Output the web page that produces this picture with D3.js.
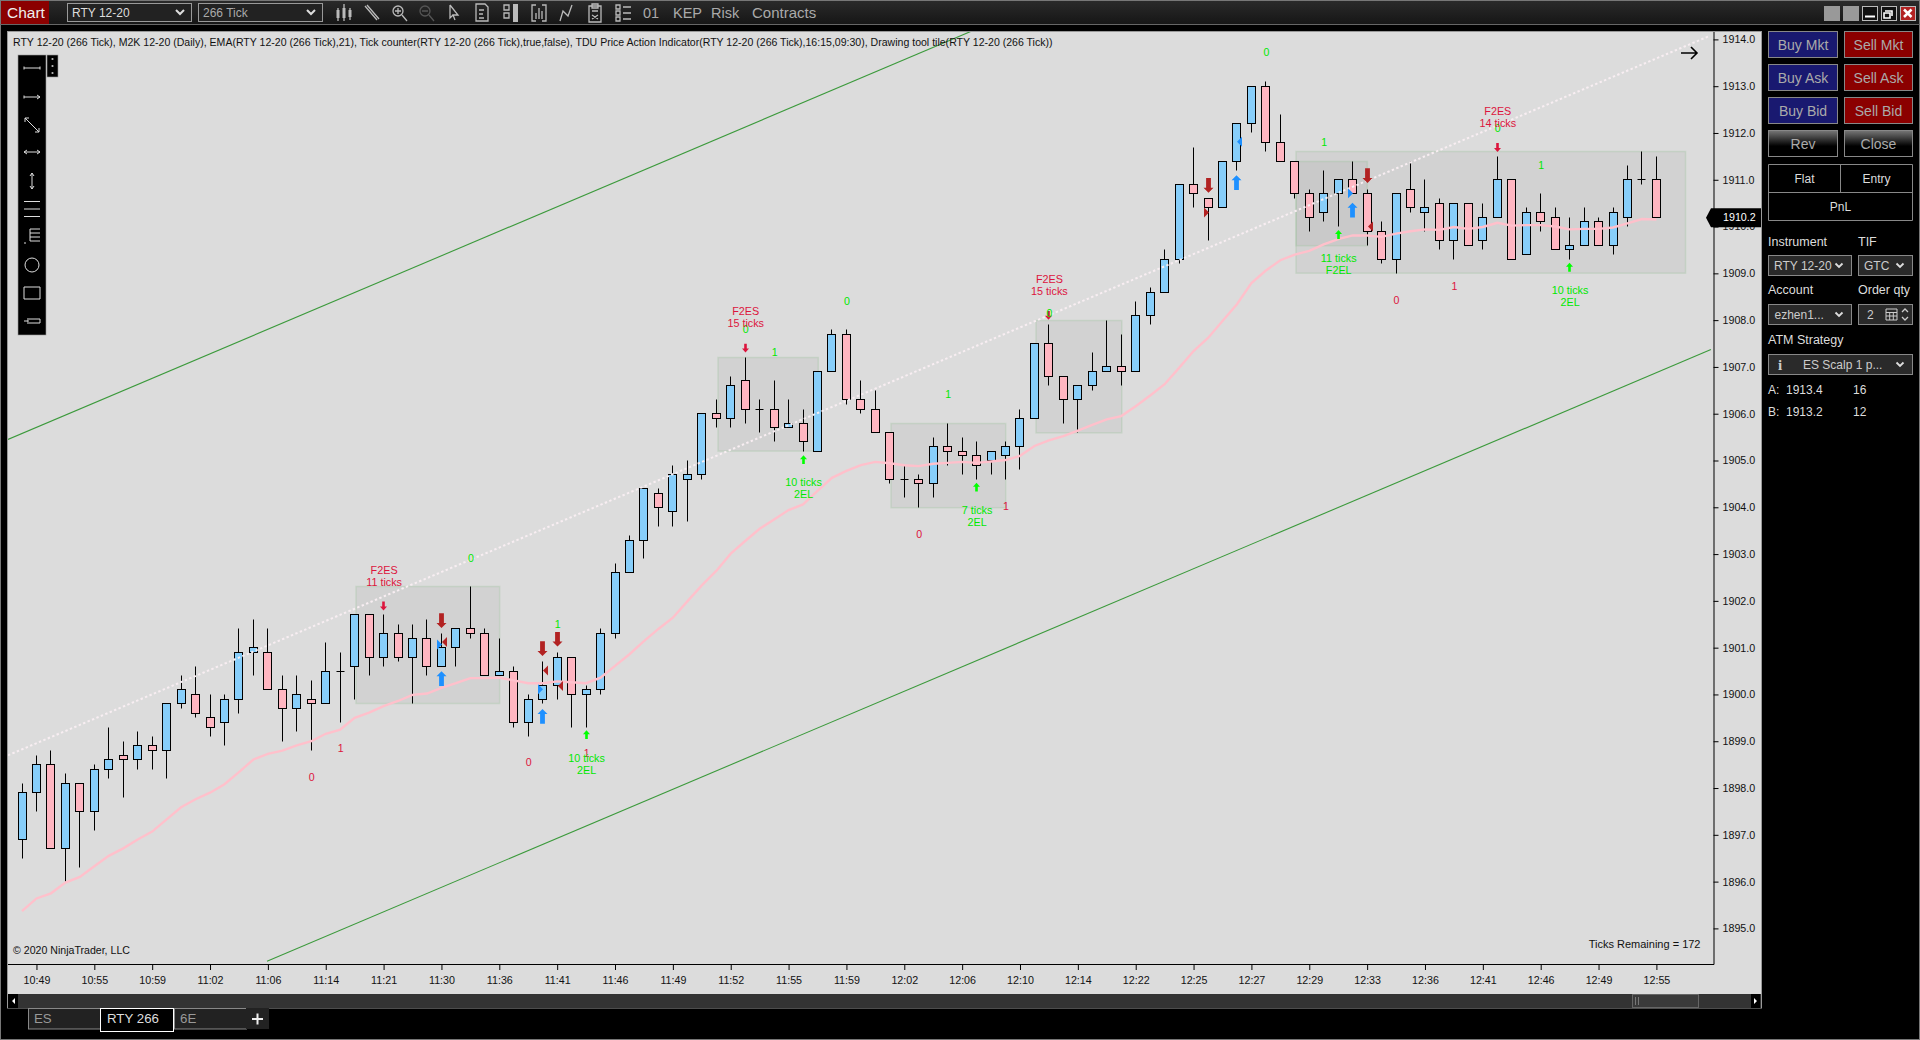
<!DOCTYPE html>
<html>
<head>
<meta charset="utf-8">
<script src="https://cdn.jsdelivr.net/npm/d3@7"></script>
<style>
  html, body { margin: 0; background: #000; overflow: hidden; }
  text { font-family: "Liberation Sans", Arial, sans-serif; }
</style>
</head>
<body>
<div id="chart"></div>
<script>
const opens = [1896.9,1897.9,1898.5,1896.7,1898.1,1897.5,1898.4,1898.7,1898.6,1898.9,1898.8,1899.8,1900.0,1899.5,1899.4,1899.9,1900.9,1900.9,1900.1,1899.7,1899.9,1899.8,1900.5,1900.6,1901.7,1900.8,1901.3,1900.8,1901.2,1900.6,1901.0,1901.4,1901.3,1900.4,1900.5,1899.4,1899.9,1900.2,1900.8,1900.0,1900.1,1901.3,1902.6,1903.3,1904.3,1903.9,1904.6,1904.7,1906.0,1905.9,1906.7,1906.1,1906.1,1905.7,1905.8,1905.2,1906.9,1907.7,1906.3,1906.1,1905.6,1904.6,1904.6,1904.5,1905.3,1905.2,1905.1,1905.0,1905.1,1905.3,1905.9,1907.5,1906.8,1906.3,1906.6,1906.9,1907.0,1906.9,1908.1,1908.6,1909.3,1910.9,1910.6,1910.4,1911.4,1912.2,1913.0,1911.8,1911.4,1910.7,1910.3,1910.7,1911.0,1910.7,1909.9,1909.3,1910.8,1910.3,1910.5,1909.7,1910.5,1909.7,1910.2,1911.0,1909.4,1910.3,1910.2,1909.5,1909.6,1910.1,1909.6,1910.2,1911.0,1911.0];
const closes = [1897.9,1898.5,1896.7,1898.1,1897.5,1898.4,1898.6,1898.6,1898.9,1898.8,1899.8,1900.1,1899.6,1899.3,1899.9,1900.9,1901.0,1900.1,1899.7,1900.0,1899.8,1900.5,1900.5,1901.7,1900.8,1901.3,1900.8,1901.2,1900.6,1901.0,1901.4,1901.3,1900.4,1900.5,1899.4,1899.9,1900.2,1900.8,1900.0,1900.1,1901.3,1902.6,1903.3,1904.4,1904.0,1904.7,1904.7,1906.0,1905.9,1906.6,1906.1,1906.1,1905.7,1905.8,1905.4,1906.9,1907.7,1906.3,1906.1,1905.6,1904.6,1904.6,1904.5,1905.3,1905.2,1905.1,1904.9,1905.2,1905.3,1905.9,1907.5,1906.8,1906.3,1906.6,1906.9,1907.0,1906.9,1908.1,1908.6,1909.3,1910.9,1910.7,1910.4,1911.4,1912.2,1913.0,1911.8,1911.4,1910.7,1910.2,1910.7,1911.0,1910.7,1909.9,1909.3,1910.7,1910.4,1910.4,1909.7,1910.5,1909.6,1910.2,1911.0,1909.3,1910.3,1910.1,1909.5,1909.6,1910.1,1909.6,1910.3,1911.0,1911.0,1910.2];
const highs = [1898.1,1898.7,1898.8,1898.3,1898.1,1898.5,1899.3,1899.0,1899.2,1899.1,1899.8,1900.4,1900.6,1900.0,1900.0,1901.4,1901.6,1901.4,1900.4,1900.4,1900.3,1901.1,1900.9,1901.7,1901.7,1901.7,1901.5,1901.5,1901.6,1901.3,1901.4,1902.3,1901.4,1901.2,1900.6,1900.0,1900.7,1900.9,1900.8,1900.2,1901.4,1902.8,1903.4,1904.4,1904.4,1904.9,1905.0,1906.0,1906.3,1906.8,1907.2,1906.3,1906.7,1906.3,1906.1,1906.9,1907.8,1907.8,1906.7,1906.5,1905.6,1904.9,1904.7,1905.5,1905.8,1905.5,1905.4,1905.2,1905.4,1906.1,1907.5,1907.9,1906.8,1906.6,1907.3,1908.0,1907.7,1908.4,1908.7,1909.5,1910.9,1911.7,1910.6,1911.4,1912.2,1913.0,1913.1,1912.4,1911.4,1910.8,1911.2,1911.0,1911.4,1910.8,1910.1,1910.7,1911.4,1911.0,1910.6,1910.5,1910.5,1910.5,1911.5,1911.0,1910.4,1910.7,1910.4,1910.2,1910.4,1910.2,1910.4,1911.3,1911.6,1911.5];
const lows = [1896.5,1897.5,1896.7,1896.0,1896.3,1897.1,1898.2,1897.8,1898.4,1898.4,1898.2,1899.7,1899.5,1899.1,1898.9,1899.6,1900.4,1900.1,1899.0,1899.2,1898.8,1899.8,1899.4,1899.9,1900.4,1900.6,1900.7,1899.8,1900.4,1900.6,1900.6,1901.2,1900.4,1900.4,1899.3,1899.1,1899.8,1899.9,1899.3,1899.3,1900.0,1901.2,1902.6,1902.9,1903.6,1903.6,1903.7,1904.6,1905.7,1905.7,1905.8,1905.6,1905.4,1905.7,1905.2,1905.2,1906.9,1906.2,1906.0,1905.6,1904.5,1904.2,1904.0,1904.2,1904.9,1904.7,1904.6,1904.7,1904.6,1904.8,1905.9,1906.6,1905.8,1905.6,1906.5,1906.9,1906.6,1906.9,1907.9,1908.6,1909.2,1910.4,1909.7,1910.4,1911.2,1912.0,1911.6,1911.4,1910.6,1909.9,1910.1,1910.0,1910.7,1909.6,1909.2,1909.0,1910.3,1909.9,1909.5,1909.3,1909.6,1909.5,1910.2,1909.3,1909.4,1909.9,1909.5,1909.3,1909.6,1909.6,1909.4,1910.0,1910.9,1910.2];
const ema21 = [1895.37,1895.64,1895.75,1895.98,1896.10,1896.33,1896.55,1896.71,1896.90,1897.07,1897.33,1897.59,1897.76,1897.90,1898.08,1898.34,1898.61,1898.73,1898.80,1898.91,1899.00,1899.16,1899.25,1899.50,1899.61,1899.75,1899.86,1899.99,1900.02,1900.14,1900.24,1900.35,1900.35,1900.36,1900.30,1900.24,1900.24,1900.28,1900.26,1900.24,1900.36,1900.61,1900.86,1901.14,1901.40,1901.64,1901.99,1902.33,1902.64,1903.01,1903.28,1903.54,1903.74,1903.94,1904.06,1904.35,1904.63,1904.78,1904.90,1904.97,1904.94,1904.90,1904.88,1904.93,1904.95,1904.97,1904.95,1904.98,1905.01,1905.10,1905.31,1905.43,1905.52,1905.64,1905.76,1905.88,1905.95,1906.16,1906.39,1906.63,1906.98,1907.34,1907.62,1907.98,1908.34,1908.79,1909.06,1909.28,1909.40,1909.48,1909.62,1909.73,1909.81,1909.81,1909.78,1909.85,1909.90,1909.94,1909.93,1909.99,1909.95,1909.99,1910.08,1910.02,1910.03,1910.03,1910.00,1909.94,1909.95,1909.95,1909.98,1910.07,1910.16,1910.15];

const priceTicks = d3.range(1895, 1915);
const timeLabels = ["10:49","10:55","10:59","11:02","11:06","11:14","11:21","11:30","11:36","11:41","11:46","11:49","11:52","11:55","11:59","12:02","12:06","12:10","12:14","12:22","12:25","12:27","12:29","12:33","12:36","12:41","12:46","12:49","12:55"];
const lastPrice = 1910.2;

// drawn objects, all in bar index / price
const zones = [[23, 33, 1902.3, 1899.8], [48, 55, 1907.2, 1905.2], [60, 68, 1905.8, 1904.0], [70, 76, 1908.0, 1905.6], [88, 115, 1911.6, 1909.0], [88, 93, 1911.4, 1909.6]];
const channelLines = [[-0.97, 1905.45, 65.75, 1914.19], [16.94, 1894.3, 116.77, 1907.37]];
const midLine = [-0.97, 1898.7, 116.57, 1914.06];

// swing counters [text, bar, price]
const redCounters = [["0",20,1898.24],["1",22,1898.84],["0",35,1898.55],["1",39,1898.74],["0",62,1903.43],["1",68,1904.03],["0",95,1908.43],["1",99,1908.73]];
const greenCounters = [["0",31,1902.92],["1",37,1901.50],["0",50,1907.80],["1",52,1907.32],["0",57,1908.41],["1",64,1906.42],["0",71,1908.14],["0",86,1913.72],["1",90,1911.81],["0",102,1912.10],["1",105,1911.31]];
// setup labels [line1, line2, bar, price of first line]
const shortLabels = [["F2ES","11 ticks",25,1902.66],["F2ES","15 ticks",50,1908.18],["F2ES","15 ticks",71,1908.88],["F2ES","14 ticks",102,1912.47]];
const longLabels = [["10 ticks","2EL",39,1898.64],["10 ticks","2EL",54,1904.54],["7 ticks","2EL",66,1903.94],["11 ticks","F2EL",91,1909.33],["10 ticks","2EL",107,1908.64]];
// arrows [bar, price]
const smallDown = [[25,1901.89],[50,1907.40],[71,1908.10],[102,1911.69]];
const smallUp = [[39,1899.14],[54,1905.02],[66,1904.43],[91,1909.83],[107,1909.13]];
const bigDown = [[29,1901.58],[36,1900.98],[37,1901.18],[82,1910.88],[93,1911.09]];
const bigUp = [[29,1900.34],[36,1899.53],[84,1910.94],[92,1910.35]];
// entry triangles [bar, price]
const blueRight = [[29,1901.07],[36,1900.11],[92,1910.71]];
const blueLeft = [[84,1911.81]];
const redLeft = [[29,1901.12],[36,1900.51],[37,1900.18],[93,1910.00]];
const redRight = [[82,1910.30]];

const width = 1920;
const height = 1040;
const plot = { left: 8, right: 1713.5, top: 32, bottom: 964 };
const font = "Liberation Sans";

const svg = d3.select("#chart").append("svg")
  .attr("width", width)
  .attr("height", height)
  .style("display", "block");

const x = d3.scaleLinear().domain([0, 113]).range([22, 1656.4]);
const y = d3.scaleLinear().domain([1895, 1914]).range([928.4, 39.4]);
const cx = i => Math.floor(x(i)) + 0.5;
const cy = p => Math.floor(y(p)) + 0.5;

function label(g, txt, px, py, size, fill, anchor) {
  return g.append("text").attr("x", px).attr("y", py).attr("dy", "0.35em")
    .attr("font-size", size).attr("fill", fill).attr("text-anchor", anchor || "start").text(txt);
}

// ---------- window frame ----------
svg.append("rect").attr("width", width).attr("height", height).attr("fill", "#000");
svg.append("rect").attr("x", 0.5).attr("y", 0.5).attr("width", width - 1).attr("height", height - 1)
  .attr("fill", "none").attr("stroke", "#777");

const topGrad = svg.append("defs").append("linearGradient").attr("id", "topbar").attr("x2", 0).attr("y2", 1);
topGrad.append("stop").attr("offset", 0).attr("stop-color", "#2a2a2a");
topGrad.append("stop").attr("offset", 1).attr("stop-color", "#161616");
const btnGrad = svg.select("defs").append("linearGradient").attr("id", "btn").attr("x2", 0).attr("y2", 1);
btnGrad.append("stop").attr("offset", 0).attr("stop-color", "#777");
btnGrad.append("stop").attr("offset", 0.6).attr("stop-color", "#000");

const header = svg.append("g");
header.append("rect").attr("x", 1).attr("y", 1).attr("width", width - 2).attr("height", 23).attr("fill", "url(#topbar)");
header.append("rect").attr("x", 0).attr("y", 24).attr("width", width).attr("height", 1).attr("fill", "#666");
header.append("rect").attr("x", 1).attr("y", 1).attr("width", 48).attr("height", 23).attr("fill", "#8B0000");
label(header, "Chart", 7, 13, 15.5, "#eee");

[[67, "RTY 12-20", "#ddd"], [198, "266 Tick", "#aaa"]].forEach(d => {
  header.append("rect").attr("x", d[0] + .5).attr("y", 3.5).attr("width", 124).attr("height", 18)
    .attr("fill", "#222").attr("stroke", "#999");
  label(header, d[1], d[0] + 5, 13, 12, d[2]);
  header.append("path").attr("d", `M${d[0] + 109},10l4,4l4,-4`).attr("fill", "none").attr("stroke", "#ddd").attr("stroke-width", 2);
});

const iconColor = "#bbb";
const icon = (px, d, extra) => header.append("path").attr("transform", `translate(${px},13)`).attr("d", d)
  .attr("fill", "none").attr("stroke", extra || iconColor).attr("stroke-width", 1.3);
icon(344, "M-6,-5V8M0,-9V8M6,-5V7");
header.append("path").attr("transform", "translate(344,13)").attr("d", "M-6,-3V5M0,-5V5M6,-3V4").attr("stroke", iconColor).attr("stroke-width", 3);
icon(371, "M-6,-7L6,7M-4,-8L8,6");
header.append("circle").attr("cx", 398).attr("cy", 11).attr("r", 5).attr("fill", "none").attr("stroke", iconColor).attr("stroke-width", 1.3);
icon(398, "M-3,-2H3M0,-5V1M4,2L9,8");
header.append("circle").attr("cx", 425).attr("cy", 11).attr("r", 5).attr("fill", "none").attr("stroke", "#555").attr("stroke-width", 1.3);
icon(425, "M-3,-2H3M4,2L9,8", "#555");
icon(453, "M-3,-8L5,2H0L2,7M-3,-8V5L0,2");
icon(482, "M-6,-9H3L6,-6V8H-6ZM-3,-3H2M-3,1H1M-3,5H2");
icon(510, "M-6,-8H-1V-3H-6ZM-6,0H-1V5H-6Z");
header.append("rect").attr("x", 513).attr("y", 4).attr("width", 5).attr("height", 18).attr("fill", iconColor);
icon(539, "M-3,-8H-7V8H-3M3,-8H7V8H3M-3,6V0M0,6V-5M3,6V-2");
icon(566, "M-6,8L-3,-2L2,3L6,-8");
icon(595, "M-6,-7H6V9H-6ZM-3,-9H3V-5H-3ZM-3,-2H3M-3,2L3,6M3,2L-3,6");
icon(623, "M-7,-8H-3V-4H-7ZM-7,-2H-3V2H-7ZM-7,4H-3V8H-7ZM0,-6H8M0,0H8M0,6H8");

label(header, "01", 643, 13, 14.5, "#aaa");
label(header, "KEP", 673, 13, 14.5, "#aaa");
label(header, "Risk", 711, 13, 14.5, "#aaa");
label(header, "Contracts", 752, 13, 15, "#aaa");

[1824, 1843].forEach(px => header.append("rect").attr("x", px).attr("y", 6).attr("width", 16).attr("height", 15).attr("fill", "#999"));
[1862, 1881, 1900].forEach((px, i) => header.append("rect").attr("x", px + .5).attr("y", 6.5).attr("width", 15).attr("height", 14)
  .attr("fill", i === 2 ? "#B22222" : "#111").attr("stroke", "#bbb"));
header.append("path").attr("d", "M1865,16.5H1875").attr("stroke", "#fff").attr("stroke-width", 2);
header.append("path").attr("d", "M1885,11h7v5M1884,13h6v5h-6z").attr("fill", "none").attr("stroke", "#fff").attr("stroke-width", 1.6);
header.append("path").attr("d", "M1904,9.5l7.5,7.5M1911.5,9.5l-7.5,7.5").attr("stroke", "#fff").attr("stroke-width", 2.5);

// ---------- chart panel ----------
const panel = svg.append("g");
panel.append("rect").attr("x", 7.5).attr("y", 31.5).attr("width", 1754).attr("height", 976.5)
  .attr("fill", "#DCDCDC").attr("stroke", "#999");

svg.select("defs").append("clipPath").attr("id", "plotclip").append("rect")
  .attr("x", plot.left).attr("y", plot.top)
  .attr("width", plot.right - plot.left).attr("height", plot.bottom - plot.top);
const chart = svg.append("g").attr("clip-path", "url(#plotclip)");

chart.selectAll(".zone").data(zones).join("rect")
  .attr("class", "zone")
  .attr("x", d => cx(d[0]) + 1.5)
  .attr("y", d => cy(d[2]))
  .attr("width", d => x(d[1]) - x(d[0]) - 1)
  .attr("height", d => y(d[3]) - y(d[2]))
  .attr("fill", "#808080").attr("fill-opacity", 0.1)
  .attr("stroke", "#90c090").attr("stroke-opacity", 0.25).attr("stroke-width", 1.5);

chart.selectAll(".channel").data(channelLines).join("line")
  .attr("class", "channel")
  .attr("x1", d => x(d[0])).attr("y1", d => y(d[1]))
  .attr("x2", d => x(d[2])).attr("y2", d => y(d[3]))
  .attr("stroke", "#3c9a3c").attr("stroke-width", 1.1);

// candles
const bars = opens.map((o, i) => ({ i, o, c: closes[i], h: highs[i], l: lows[i] }));
chart.selectAll(".wick").data(bars).join("line")
  .attr("class", "wick")
  .attr("x1", d => cx(d.i)).attr("x2", d => cx(d.i))
  .attr("y1", d => cy(d.h)).attr("y2", d => cy(d.l))
  .attr("stroke", "#000").attr("stroke-width", 1);
chart.selectAll(".body").data(bars.filter(d => d.o !== d.c)).join("rect")
  .attr("class", "body")
  .attr("x", d => cx(d.i) - 4)
  .attr("y", d => cy(Math.max(d.o, d.c)))
  .attr("width", 8)
  .attr("height", d => cy(Math.min(d.o, d.c)) - cy(Math.max(d.o, d.c)))
  .attr("fill", d => d.c > d.o ? "#87CEFA" : "#FFB6C1")
  .attr("stroke", "#000").attr("stroke-width", 1);
chart.selectAll(".doji").data(bars.filter(d => d.o === d.c)).join("line")
  .attr("class", "doji")
  .attr("x1", d => cx(d.i) - 4).attr("x2", d => cx(d.i) + 4)
  .attr("y1", d => cy(d.c)).attr("y2", d => cy(d.c))
  .attr("stroke", "#000");

chart.append("path").datum(ema21)
  .attr("d", d3.line().x((d, i) => x(i)).y(d => y(d)))
  .attr("fill", "none").attr("stroke", "#FFC0CB").attr("stroke-width", 2.4);

chart.append("line")
  .attr("x1", x(midLine[0])).attr("y1", y(midLine[1]))
  .attr("x2", x(midLine[2])).attr("y2", y(midLine[3]))
  .attr("stroke", "#f8eef2").attr("stroke-width", 2).attr("stroke-dasharray", "2.4 2.4");

// signals
const arrowPath = (h, shaft, head, hh) => {
  const p = d3.path();
  p.moveTo(-shaft / 2, -h / 2); p.lineTo(shaft / 2, -h / 2); p.lineTo(shaft / 2, h / 2 - hh);
  p.lineTo(head / 2, h / 2 - hh); p.lineTo(0, h / 2); p.lineTo(-head / 2, h / 2 - hh);
  p.lineTo(-shaft / 2, h / 2 - hh); p.closePath();
  return p.toString();
};
const bigArrow = arrowPath(14.7, 4.8, 10, 5);
const smallArrow = arrowPath(8.8, 2.6, 7, 4);
function drawArrows(data, d, fill, flip) {
  chart.append("g").selectAll("path").data(data).join("path")
    .attr("transform", v => `translate(${cx(v[0])},${y(v[1])})${flip ? " scale(1,-1)" : ""}`)
    .attr("d", d).attr("fill", fill);
}
drawArrows(bigDown, bigArrow, "#B22222", false);
drawArrows(bigUp, bigArrow, "#1E90FF", true);
drawArrows(smallDown, smallArrow, "#DC143C", false);
drawArrows(smallUp, smallArrow, "#00FF00", true);

function drawTriangles(data, dir, fill) {
  // dir > 0: triangle points right and ends at the wick, dir < 0: points left from the wick
  const d = dir > 0 ? "M-5,-5L0,0L-5,5Z" : "M5,-5L0,0L5,5Z";
  chart.append("g").selectAll("path").data(data).join("path")
    .attr("transform", v => `translate(${cx(v[0]) + 0.5},${y(v[1])})`)
    .attr("d", d).attr("fill", fill);
}
drawTriangles(blueRight, 1, "#1E90FF");
drawTriangles(blueLeft, -1, "#1E90FF");
drawTriangles(redLeft, -1, "#B22222");
drawTriangles(redRight, 1, "#B22222");

function drawCounters(data, fill) {
  chart.append("g").selectAll("text").data(data).join("text")
    .attr("x", d => x(d[1]) + 0.5).attr("y", d => y(d[2])).attr("dy", "0.35em")
    .attr("text-anchor", "middle").attr("font-size", 10.6).attr("fill", fill)
    .text(d => d[0]);
}
drawCounters(redCounters, "#DC143C");
drawCounters(greenCounters, "#00E800");

function drawSetups(data, fill) {
  data.forEach(d => {
    label(chart, d[0], x(d[2]) + 0.5, y(d[3]), 10.8, fill, "middle");
    label(chart, d[1], x(d[2]) + 0.5, y(d[3]) + 12, 10.8, fill, "middle");
  });
}
drawSetups(shortLabels, "#DC143C");
drawSetups(longLabels, "#00E800");

// ---------- axes ----------
const yAxis = d3.axisRight(y).tickValues(priceTicks).tickSize(5).tickPadding(4)
  .tickFormat(d3.format(".1f"));
const yG = svg.append("g").attr("transform", `translate(${plot.right},0)`).call(yAxis);
yG.select(".domain").remove();
yG.selectAll("text").attr("font-size", 10.7).attr("font-family", font).attr("fill", "#111");

const xTickBars = timeLabels.map((t, i) => 1 + i * 4);
const xAxis = d3.axisBottom(x).tickValues(xTickBars).tickSize(6).tickPadding(6)
  .tickFormat((d, i) => timeLabels[i]);
const xG = svg.append("g").attr("transform", `translate(0,${plot.bottom})`).call(xAxis);
xG.select(".domain").remove();
xG.selectAll("text").attr("font-size", 10.7).attr("font-family", font).attr("fill", "#111");

svg.append("path")
  .attr("d", `M${plot.left},${plot.bottom + .5}H${plot.right + .5}V${plot.top}`)
  .attr("fill", "none").attr("stroke", "#000");

// current price flag
const flag = svg.append("g").attr("transform", `translate(0,${y(lastPrice)})`);
flag.append("path").attr("d", "M1706,0.5L1711,-9H1761V10H1711Z").attr("fill", "#000");
label(flag, d3.format(".1f")(lastPrice), 1723, 0.5, 10.7, "#fff");

// legend and notes
label(svg, "RTY 12-20 (266 Tick), M2K 12-20 (Daily), EMA(RTY 12-20 (266 Tick),21), Tick counter(RTY 12-20 (266 Tick),true,false), TDU Price Action Indicator(RTY 12-20 (266 Tick),16:15,09:30), Drawing tool tile(RTY 12-20 (266 Tick))",
  13, 42.5, 10.56, "#111");
label(svg, "© 2020 NinjaTrader, LLC", 13, 950.5, 10.6, "#111");
label(svg, "Ticks Remaining = 172", 1700.5, 944.5, 11, "#111", "end");
svg.append("path").attr("d", "M1681,53H1697M1691,47L1697,53L1691,59").attr("fill", "none").attr("stroke", "#000").attr("stroke-width", 1.6);

// ---------- drawing tools ----------
const tools = svg.append("g");
tools.append("rect").attr("x", 18).attr("y", 55).attr("width", 28).attr("height", 280).attr("fill", "#000").attr("stroke", "#999").attr("stroke-width", .6);
tools.append("rect").attr("x", 47).attr("y", 55).attr("width", 11).attr("height", 22).attr("fill", "#000").attr("stroke", "#999").attr("stroke-width", .6);
[59, 66, 73].forEach(py => tools.append("circle").attr("cx", 52.5).attr("cy", py).attr("r", 1.1).attr("fill", "#bbb"));
const toolIcons = [
  [68, "M-8,0H8M-8,-1.5V1.5M8,-1.5V1.5"],
  [97, "M-8,0H8M5,-2L8,0L5,2M-8,-1.5V1.5"],
  [125, "M-7,-7L7,7M-7,-3V-7H-3M7,3V7H3"],
  [152, "M-8,0H8M-5,-2L-8,0L-5,2M5,-2L8,0L5,2"],
  [181, "M0,-8V8M-2,-5L0,-8L2,-5M-2,5L0,8L2,5"],
  [209, "M-8,-7.5H8M-8,0H8M-8,7.5H8"],
  [235, "M-2,-6H8M-2,-2H8M-2,2H8M-2,6H8M-2,-6V6M-8,8H-6"],
  [293, "M-8,-6H8V6H-8Z"],
  [321, "M-8,0H-4M-4,-3V3M-3,-2H8V2H-3"]
];
tools.selectAll(".ti").data(toolIcons).join("path")
  .attr("class", "ti").attr("transform", d => `translate(32,${d[0]})`)
  .attr("d", d => d[1]).attr("fill", "none").attr("stroke", "#ddd").attr("stroke-width", 1);
tools.append("circle").attr("cx", 32).attr("cy", 265).attr("r", 7).attr("fill", "none").attr("stroke", "#ddd");

// ---------- scrollbar and tabs ----------
const bottom = svg.append("g");
bottom.append("rect").attr("x", 8).attr("y", 994).attr("width", 1753).attr("height", 14).attr("fill", "#333");
bottom.append("rect").attr("x", 8).attr("y", 994).attr("width", 10).attr("height", 14).attr("fill", "#000");
bottom.append("rect").attr("x", 1751).attr("y", 994).attr("width", 9).attr("height", 14).attr("fill", "#000");
bottom.append("path").attr("d", "M15,998V1004L12,1001Z M1754,998V1004L1757,1001Z").attr("fill", "#fff");
bottom.append("rect").attr("x", 1632.5).attr("y", 994.5).attr("width", 66).attr("height", 13).attr("fill", "#3a3a3a").attr("stroke", "#666");
bottom.append("path").attr("d", "M1635.5,997V1005M1638.5,997V1005").attr("stroke", "#777");

const tabs = [[28, 72, "ES", "#999"], [174, 72, "6E", "#999"]];
tabs.forEach(t => {
  bottom.append("rect").attr("x", t[0] + .5).attr("y", 1008.5).attr("width", t[1]).attr("height", 20.5)
    .attr("fill", "#222").attr("stroke", "#888");
  label(bottom, t[2], t[0] + 6, 1018.5, 13.3, t[3]);
});
bottom.append("rect").attr("x", 100.5).attr("y", 1008.5).attr("width", 73).attr("height", 23).attr("fill", "#000").attr("stroke", "#fff");
label(bottom, "RTY 266", 107, 1018.5, 13.3, "#ddd");
bottom.append("rect").attr("x", 246).attr("y", 1008).attr("width", 23).attr("height", 21).attr("fill", "#222");
bottom.append("path").attr("d", "M252,1019H263M257.5,1013.5V1024.5").attr("stroke", "#eee").attr("stroke-width", 2);

// ---------- order panel ----------
const side = svg.append("g");
const orderButtons = [
  ["Buy Mkt", 1768.5, 31.5, 69, "#191970"], ["Sell Mkt", 1844.5, 31.5, 68, "#8B0000"],
  ["Buy Ask", 1768.5, 64.5, 69, "#191970"], ["Sell Ask", 1844.5, 64.5, 68, "#8B0000"],
  ["Buy Bid", 1768.5, 97.5, 69, "#191970"], ["Sell Bid", 1844.5, 97.5, 68, "#8B0000"],
  ["Rev", 1768.5, 130.5, 69, "url(#btn)"], ["Close", 1844.5, 130.5, 68, "url(#btn)"]
];
orderButtons.forEach(b => {
  side.append("rect").attr("x", b[1]).attr("y", b[2]).attr("width", b[3]).attr("height", 26)
    .attr("fill", b[4]).attr("stroke", "#888");
  label(side, b[0], b[1] + b[3] / 2, b[2] + 13.5, 14, "#aaa", "middle");
});
side.append("path").attr("d", "M1768.5,164.5H1912.5V220.5H1768.5ZM1768.5,192.5H1912.5M1840.5,164.5V192.5")
  .attr("fill", "#000").attr("stroke", "#888");
label(side, "Flat", 1804.5, 178.5, 12, "#ddd", "middle");
label(side, "Entry", 1876.5, 178.5, 12, "#ddd", "middle");
label(side, "PnL", 1840.5, 206.5, 12, "#ddd", "middle");

label(side, "Instrument", 1768, 241.5, 12.5, "#ddd");
label(side, "TIF", 1858, 241.5, 12.5, "#ddd");
label(side, "Account", 1768, 289.5, 12.5, "#ddd");
label(side, "Order qty", 1858, 289.5, 12.5, "#ddd");
label(side, "ATM Strategy", 1768, 340, 12.5, "#ddd");

const selects = [
  [1768.5, 255.5, 83, "RTY 12-20", 1774], [1858.5, 255.5, 54, "GTC", 1864],
  [1768.5, 304.5, 83, "ezhen1...", 1774.5], [1858.5, 304.5, 54, "2", 1867],
  [1768.5, 354.5, 144, "ES Scalp 1 p...", 1803]
];
selects.forEach(s => {
  side.append("rect").attr("x", s[0]).attr("y", s[1]).attr("width", s[2]).attr("height", 20)
    .attr("fill", "#2a2a2a").attr("stroke", "#888");
  label(side, s[3], s[4], s[1] + 10.5, 12, "#ccc");
  if (s[3] !== "2") {
    const ax = s[0] + s[2] - 12;
    side.append("path").attr("d", `M${ax - 4},${s[1] + 8}l3.5,3.5l3.5,-3.5`)
      .attr("fill", "none").attr("stroke", "#ddd").attr("stroke-width", 1.8);
  }
});
label(side, "i", 1780, 365, 15, "#ccc", "middle").attr("font-weight", "bold").style("font-family", "Liberation Serif");
side.append("path").attr("d", "M1886,309h11v11h-11zM1886,312.5h11M1886,316h11M1889.7,312.5v7.5M1893.3,312.5v7.5").attr("fill", "none").attr("stroke", "#ccc");
side.append("path").attr("d", "M1902,312l3,-3l3,3M1902,317l3,3l3,-3").attr("fill", "none").attr("stroke", "#ccc").attr("stroke-width", 1.3);

[["A:", "1913.4", "16", 389.5], ["B:", "1913.2", "12", 412]].forEach(r => {
  label(side, r[0], 1768, r[3], 12, "#ddd");
  label(side, r[1], 1786, r[3], 12, "#ddd");
  label(side, r[2], 1853, r[3], 12, "#ddd");
});
</script>
</body>
</html>
